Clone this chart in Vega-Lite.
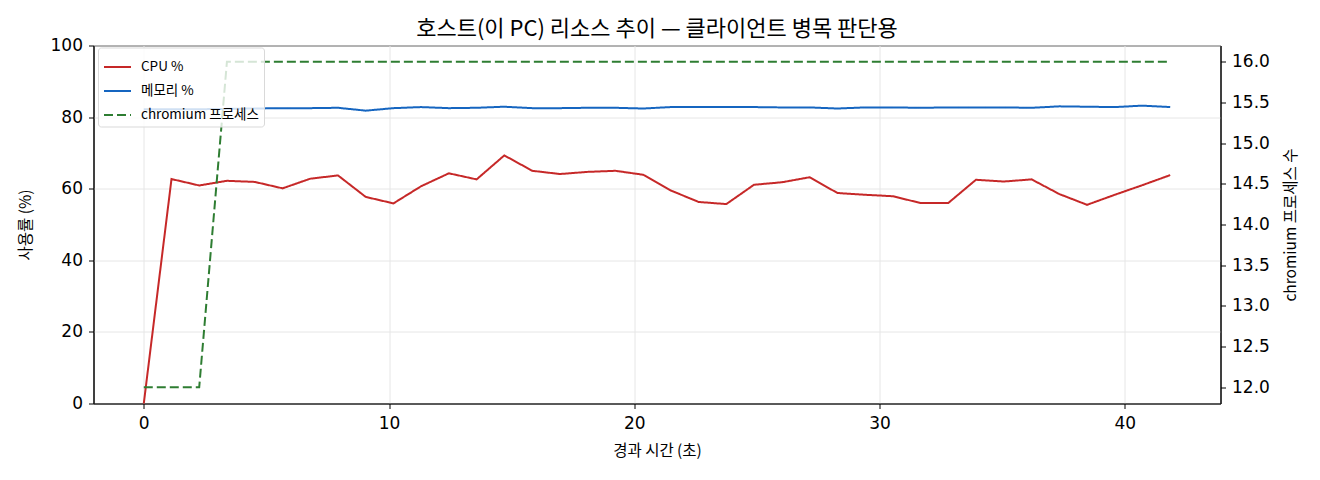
{
  "$schema": "https://vega.github.io/schema/vega-lite/v6.json",
  "autosize": {"type": "none"},
  "padding": {"left": 93.5, "top": 45.5, "right": 99.5, "bottom": 76.5},
  "width": 1127,
  "height": 358,
  "background": "white",
  "config": {
    "font": "Noto Sans CJK KR",
    "view": {"stroke": "#000000", "strokeWidth": 1},
    "axis": {
      "labelFont": "DejaVu Sans",
      "titleFont": "Noto Sans CJK KR",
      "labelFontSize": 17,
      "titleFontSize": 15.5,
      "titleFontWeight": "normal",
      "labelColor": "#000000",
      "titleColor": "#000000",
      "tickColor": "#000000",
      "tickSize": 5,
      "domain": true,
      "domainColor": "#000000",
      "gridColor": "#e6e6e6",
      "gridWidth": 1
    },
    "legend": {
      "labelFont": "Noto Sans CJK KR",
      "labelFontSize": 13.5,
      "labelColor": "#000000"
    },
    "title": {"font": "Noto Sans CJK KR", "fontSize": 22, "fontWeight": "normal", "color": "#000000"}
  },
  "title": {"text": "호스트(이 PC) 리소스 추이 — 클라이언트 병목 판단용", "offset": -4},
  "data": {
    "values": [
      {"t": 0, "cpu": 0, "mem": 82.2, "proc": 12},
      {"t": 1.13, "cpu": 62.7, "mem": 82.2, "proc": 12},
      {"t": 2.26, "cpu": 60.9, "mem": 82.2, "proc": 12},
      {"t": 3.39, "cpu": 62.2, "mem": 82.3, "proc": 16},
      {"t": 4.52, "cpu": 61.9, "mem": 82.4, "proc": 16},
      {"t": 5.66, "cpu": 60.1, "mem": 82.5, "proc": 16},
      {"t": 6.79, "cpu": 62.8, "mem": 82.5, "proc": 16},
      {"t": 7.92, "cpu": 63.7, "mem": 82.6, "proc": 16},
      {"t": 9.05, "cpu": 57.7, "mem": 81.8, "proc": 16},
      {"t": 10.18, "cpu": 55.9, "mem": 82.5, "proc": 16},
      {"t": 11.31, "cpu": 60.7, "mem": 82.8, "proc": 16},
      {"t": 12.44, "cpu": 64.3, "mem": 82.5, "proc": 16},
      {"t": 13.57, "cpu": 62.6, "mem": 82.6, "proc": 16},
      {"t": 14.7, "cpu": 69.3, "mem": 82.9, "proc": 16},
      {"t": 15.84, "cpu": 65.0, "mem": 82.5, "proc": 16},
      {"t": 16.97, "cpu": 64.1, "mem": 82.5, "proc": 16},
      {"t": 18.1, "cpu": 64.7, "mem": 82.6, "proc": 16},
      {"t": 19.23, "cpu": 65.0, "mem": 82.6, "proc": 16},
      {"t": 20.36, "cpu": 63.9, "mem": 82.4, "proc": 16},
      {"t": 21.49, "cpu": 59.5, "mem": 82.8, "proc": 16},
      {"t": 22.62, "cpu": 56.3, "mem": 82.8, "proc": 16},
      {"t": 23.75, "cpu": 55.7, "mem": 82.8, "proc": 16},
      {"t": 24.88, "cpu": 61.1, "mem": 82.8, "proc": 16},
      {"t": 26.02, "cpu": 61.8, "mem": 82.7, "proc": 16},
      {"t": 27.15, "cpu": 63.2, "mem": 82.7, "proc": 16},
      {"t": 28.28, "cpu": 58.8, "mem": 82.4, "proc": 16},
      {"t": 29.41, "cpu": 58.3, "mem": 82.7, "proc": 16},
      {"t": 30.54, "cpu": 57.9, "mem": 82.7, "proc": 16},
      {"t": 31.67, "cpu": 56.0, "mem": 82.6, "proc": 16},
      {"t": 32.8, "cpu": 56.0, "mem": 82.7, "proc": 16},
      {"t": 33.93, "cpu": 62.5, "mem": 82.7, "proc": 16},
      {"t": 35.06, "cpu": 62.0, "mem": 82.7, "proc": 16},
      {"t": 36.2, "cpu": 62.6, "mem": 82.6, "proc": 16},
      {"t": 37.33, "cpu": 58.5, "mem": 83.0, "proc": 16},
      {"t": 38.46, "cpu": 55.5, "mem": 82.9, "proc": 16},
      {"t": 39.59, "cpu": 58.3, "mem": 82.8, "proc": 16},
      {"t": 40.72, "cpu": 61.0, "mem": 83.2, "proc": 16},
      {"t": 41.85, "cpu": 63.8, "mem": 82.8, "proc": 16}
    ]
  },
  "encoding": {
    "x": {
      "field": "t",
      "type": "quantitative",
      "scale": {"domain": [-2.05, 43.9], "nice": false, "zero": false},
      "axis": {"values": [0, 10, 20, 30, 40], "title": "경과 시간 (초)", "labelPadding": 7, "titlePadding": 12, "grid": true}
    },
    "color": {
      "field": "series",
      "type": "nominal",
      "scale": {"domain": ["cpu", "mem", "proc"], "range": ["#c62828", "#1565c0", "#2e7d32"]},
      "legend": {
        "title": null,
        "orient": "none",
        "legendX": 4.5,
        "legendY": 2,
        "symbolType": "stroke",
        "symbolSize": 729,
        "symbolStrokeWidth": 2,
        "labelOffset": 9,
        "rowPadding": 3,
        "padding": 5,
        "fillColor": "rgba(255,255,255,0.8)",
        "strokeColor": "#d9d9d9",
        "cornerRadius": 3,
        "labelExpr": "datum.value == 'cpu' ? 'CPU %' : datum.value == 'mem' ? '메모리 %' : 'chromium 프로세스'"
      }
    },
    "strokeDash": {
      "field": "series",
      "type": "nominal",
      "scale": {"domain": ["cpu", "mem", "proc"], "range": [[1, 0], [1, 0], [9, 4]]},
      "legend": null
    }
  },
  "layer": [
    {
      "transform": [{"fold": ["cpu", "mem"], "as": ["series", "v"]}],
      "mark": {"type": "line", "strokeWidth": 2},
      "encoding": {
        "y": {
          "field": "v",
          "type": "quantitative",
          "scale": {"domain": [0, 100], "nice": false},
          "axis": {"values": [0, 20, 40, 60, 80, 100], "title": "사용률 (%)", "labelPadding": 6, "titlePadding": 17, "grid": true}
        }
      }
    },
    {
      "transform": [{"fold": ["proc"], "as": ["series", "v"]}],
      "mark": {"type": "line", "strokeWidth": 2},
      "encoding": {
        "y": {
          "field": "v",
          "type": "quantitative",
          "scale": {"domain": [11.8, 16.2], "nice": false, "zero": false},
          "axis": {
            "orient": "right",
            "values": [12, 12.5, 13, 13.5, 14, 14.5, 15, 15.5, 16],
            "format": ".1f",
            "title": "chromium 프로세스 수",
            "titleAngle": 270,
            "titleBaseline": "top",
            "labelPadding": 6,
            "titlePadding": 14,
            "grid": false
          }
        }
      }
    }
  ],
  "resolve": {"scale": {"y": "independent"}}
}
